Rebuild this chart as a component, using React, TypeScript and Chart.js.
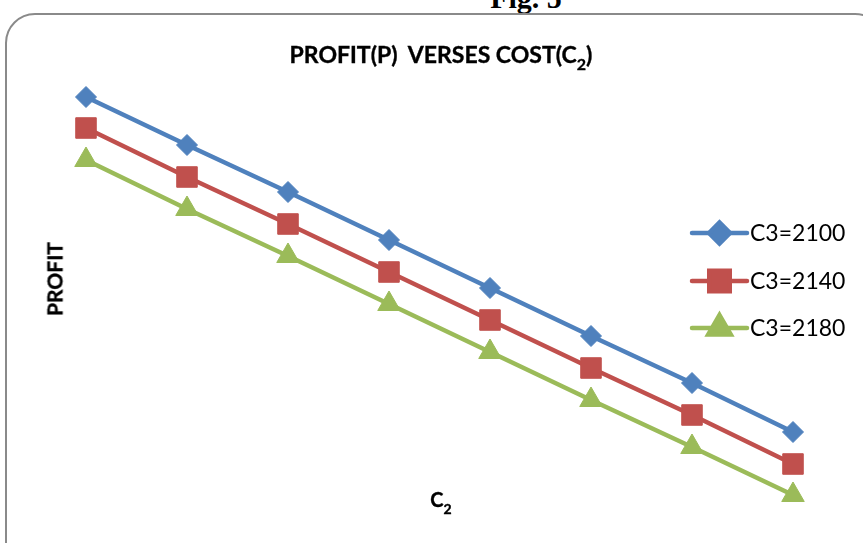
import React, { useEffect, useRef } from 'react';
import { Chart, registerables } from 'chart.js';
import { drawPoint } from 'chart.js/helpers';

Chart.register(...registerables);

// C2 levels (the reference shows no tick labels)
const categories = ['1', '2', '3', '4', '5', '6', '7', '8'];
const seriesNames = ['C3=2100', 'C3=2140', 'C3=2180'];
const profitC3_2100 = [413, 365, 318, 270, 222, 174, 127, 78];
const profitC3_2140 = [382, 333, 286, 238, 190, 142, 95, 46];
const profitC3_2180 = [350, 301, 254, 206, 158, 110, 63, 15];
const yMin = 0;
const yMax = 430;

const seriesColors = ['#4F81BD', '#C0504D', '#9BBB59'];
const seriesMarkers = ['rectRot', 'rect', 'triangle'];
const markerRadii = [10.5, 14.5, 13];

const legendPlugin = {
  id: 'sideLegend',
  afterDraw(chart: any) {
    const ctx = chart.ctx as CanvasRenderingContext2D;
    const rowY = [233, 281, 328];
    const lineX0 = 692;
    const lineX1 = 747;
    const textX = 750;
    ctx.save();
    chart.data.datasets.forEach((ds: any, i: number) => {
      const y = rowY[i];
      ctx.strokeStyle = ds.borderColor;
      ctx.lineWidth = ds.borderWidth;
      ctx.lineCap = 'round';
      ctx.beginPath();
      ctx.moveTo(lineX0, y);
      ctx.lineTo(lineX1, y);
      ctx.stroke();
      ctx.fillStyle = ds.pointBackgroundColor;
      ctx.strokeStyle = ds.pointBorderColor;
      drawPoint(ctx, { pointStyle: ds.pointStyle, radius: ds.pointRadius, rotation: 0, borderWidth: 1 } as any, (lineX0 + lineX1) / 2, y);
      ctx.fillStyle = '#000';
      ctx.font = '23px Lato';
      ctx.textBaseline = 'alphabetic';
      ctx.textAlign = 'left';
      ctx.fillText(ds.label, textX, y + 8);
    });
    ctx.restore();
  },
};

export default function App() {
  const canvasRef = useRef<HTMLCanvasElement | null>(null);

  useEffect(() => {
    document.body.style.margin = '0';
    const canvas = canvasRef.current;
    if (!canvas) return;
    const seriesData = [profitC3_2100, profitC3_2140, profitC3_2180];
    const chart = new Chart(canvas, {
      type: 'line',
      data: {
        labels: categories,
        datasets: seriesData.map((d, i) => ({
          label: seriesNames[i],
          data: d,
          borderColor: seriesColors[i],
          backgroundColor: seriesColors[i],
          pointBackgroundColor: seriesColors[i],
          pointBorderColor: seriesColors[i],
          pointStyle: seriesMarkers[i] as any,
          pointRadius: markerRadii[i],
          pointHoverRadius: markerRadii[i],
          pointBorderWidth: 1,
          borderWidth: 4.5,
          tension: 0,
          fill: false,
          clip: false as any,
        })),
      },
      options: {
        animation: false,
        responsive: false,
        events: [],
        layout: { padding: { top: 80, bottom: 33, left: 86, right: 70 } },
        plugins: {
          legend: { display: false },
          title: { display: false },
          tooltip: { enabled: false },
        },
        scales: {
          x: { type: 'category', display: false, offset: false },
          y: { type: 'linear', display: false, min: yMin, max: yMax },
        },
      },
      plugins: [legendPlugin],
    });
    return () => chart.destroy();
  }, []);

  const boldText: React.CSSProperties = {
    fontFamily: 'Lato, sans-serif', fontWeight: 'bold', whiteSpace: 'pre', WebkitTextStroke: '0.35px #000',
  };

  return (
    <div style={{ position: 'fixed', left: 0, top: 0, width: 863, height: 543, overflow: 'hidden', background: '#fff' }}>
      <div
        style={{
          position: 'absolute', left: 0, width: 1052, top: -17, textAlign: 'center',
          fontFamily: '"Liberation Serif", serif', fontWeight: 'bold', fontSize: 30, lineHeight: '30px', whiteSpace: 'pre',
        }}
      >
        Fig. 5
      </div>
      <div
        style={{
          position: 'absolute', left: 5, top: 13, width: 880, height: 560,
          border: '2px solid #8a8a8a', borderRadius: 30, boxSizing: 'border-box',
        }}
      />
      <canvas ref={canvasRef} width={863} height={543} style={{ position: 'absolute', left: 0, top: 0 }} />
      <div style={{ ...boldText, position: 'absolute', left: 0, width: 882, top: 42.6, textAlign: 'center', fontSize: 23, lineHeight: '23px' }}>
        {'PROFIT(P)  VERSES COST(C'}
        <span style={{ position: 'relative', top: 7, fontSize: 16 }}>2</span>
        {')'}
      </div>
      <div style={{ ...boldText, position: 'absolute', left: 0, width: 882, top: 489.3, textAlign: 'center', fontSize: 20, lineHeight: '20px' }}>
        {'C'}
        <span style={{ position: 'relative', top: 7, fontSize: 14 }}>2</span>
      </div>
      <div
        style={{
          ...boldText, position: 'absolute', left: 54, top: 279, transform: 'translate(-50%, -50%) rotate(-90deg)',
          fontSize: 21, lineHeight: '21px',
        }}
      >
        PROFIT
      </div>
    </div>
  );
}
